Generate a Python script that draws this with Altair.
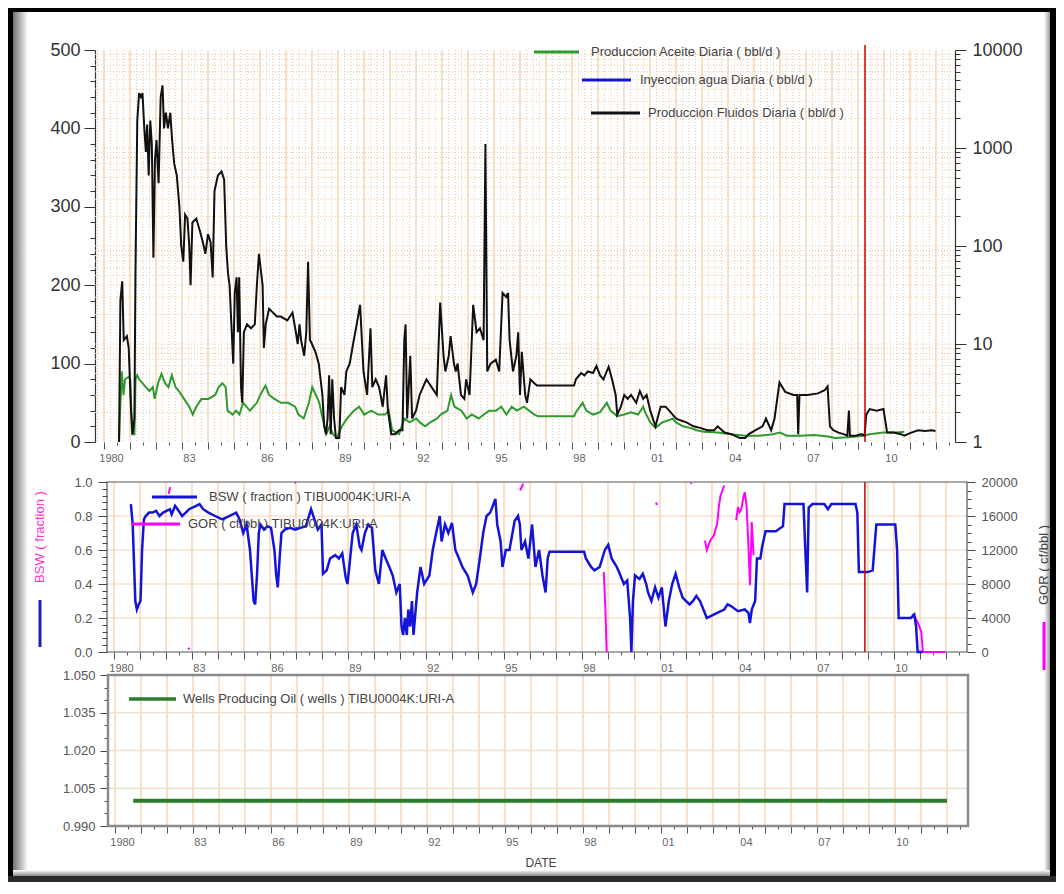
import altair as alt
import pandas as pd

FONT = "Liberation Sans"
W, H = 1048, 874

# ---------------- data ----------------
# Produccion Fluidos Diaria (bbl/d), black
fluid = [
    (1980.58, 0), (1980.63, 180), (1980.70, 205), (1980.76, 130), (1980.88, 135), (1980.95, 120),
    (1981.04, 40), (1981.10, 10), (1981.17, 30), (1981.21, 215), (1981.28, 410), (1981.35, 445),
    (1981.42, 440), (1981.48, 445), (1981.55, 400), (1981.61, 370), (1981.66, 405), (1981.72, 340),
    (1981.78, 410), (1981.84, 380), (1981.90, 235), (1981.96, 360), (1982.02, 385), (1982.10, 330),
    (1982.18, 440), (1982.25, 455), (1982.31, 400), (1982.38, 420), (1982.46, 400), (1982.55, 420),
    (1982.62, 385), (1982.70, 355), (1982.80, 340), (1982.90, 300), (1982.97, 250), (1983.05, 230),
    (1983.12, 290), (1983.21, 285), (1983.28, 250), (1983.33, 200), (1983.40, 280), (1983.55, 285),
    (1983.68, 270), (1983.80, 255), (1983.90, 240), (1984.00, 265), (1984.10, 255), (1984.18, 210),
    (1984.25, 320), (1984.38, 340), (1984.52, 345), (1984.62, 335), (1984.70, 250), (1984.77, 215),
    (1984.83, 200), (1984.90, 150), (1984.97, 100), (1985.03, 190), (1985.10, 210), (1985.15, 140),
    (1985.20, 210), (1985.27, 70), (1985.32, 50), (1985.38, 140), (1985.50, 150), (1985.65, 145),
    (1985.80, 150), (1985.88, 200), (1985.96, 240), (1986.03, 220), (1986.10, 200), (1986.15, 120),
    (1986.22, 150), (1986.35, 170), (1986.50, 165), (1986.65, 160), (1986.80, 160), (1987.05, 155),
    (1987.25, 165), (1987.38, 140), (1987.45, 125), (1987.52, 150), (1987.58, 130), (1987.70, 110),
    (1987.78, 140), (1987.85, 230), (1987.92, 130), (1988.00, 125), (1988.13, 115), (1988.26, 100),
    (1988.40, 60), (1988.47, 20), (1988.54, 10), (1988.60, 30), (1988.66, 85), (1988.72, 10),
    (1988.78, 80), (1988.85, 30), (1988.92, 5), (1989.05, 5), (1989.12, 70), (1989.25, 60),
    (1989.32, 90), (1989.45, 100), (1989.58, 125), (1989.72, 150), (1989.85, 175), (1989.98, 90),
    (1990.12, 60), (1990.25, 145), (1990.32, 70), (1990.45, 80), (1990.58, 70), (1990.72, 45),
    (1990.85, 85), (1990.92, 40), (1991.05, 10), (1991.20, 10), (1991.35, 15), (1991.48, 15),
    (1991.55, 130), (1991.60, 150), (1991.66, 30), (1991.78, 110), (1991.85, 30), (1992.00, 40),
    (1992.14, 60), (1992.27, 70), (1992.40, 80), (1992.60, 70), (1992.80, 60), (1992.93, 178),
    (1993.06, 110), (1993.13, 90), (1993.26, 110), (1993.33, 135), (1993.46, 100), (1993.53, 90),
    (1993.60, 100), (1993.73, 60), (1993.86, 55), (1993.93, 80), (1994.06, 60), (1994.20, 175),
    (1994.33, 140), (1994.46, 145), (1994.60, 130), (1994.67, 380), (1994.74, 90), (1994.87, 100),
    (1995.07, 105), (1995.20, 90), (1995.33, 190), (1995.47, 185), (1995.54, 190), (1995.60, 130),
    (1995.73, 90), (1995.86, 110), (1995.93, 140), (1996.00, 60), (1996.07, 115), (1996.20, 60),
    (1996.27, 50), (1996.40, 80), (1996.55, 75), (1996.65, 72), (1998.08, 72), (1998.15, 80),
    (1998.35, 88), (1998.48, 85), (1998.61, 90), (1998.81, 88), (1998.94, 97), (1999.08, 85),
    (1999.21, 80), (1999.41, 96), (1999.54, 80), (1999.68, 60), (1999.74, 35), (1999.88, 45),
    (2000.01, 60), (2000.14, 55), (2000.27, 60), (2000.47, 50), (2000.61, 65), (2000.74, 55),
    (2000.87, 60), (2001.01, 40), (2001.21, 20), (2001.41, 45), (2001.60, 45), (2001.74, 40),
    (2001.87, 35), (2002.00, 30), (2002.14, 28), (2002.40, 25), (2002.67, 20), (2002.93, 18),
    (2003.20, 15), (2003.47, 15), (2003.60, 20), (2003.87, 12), (2004.13, 10), (2004.46, 5),
    (2004.66, 5), (2004.80, 10), (2005.06, 15), (2005.33, 20), (2005.46, 30), (2005.66, 15),
    (2005.79, 30), (2005.98, 76), (2006.20, 64), (2006.52, 60), (2006.66, 60), (2006.70, 10),
    (2006.75, 60), (2007.06, 60), (2007.46, 62), (2007.72, 66), (2007.83, 71), (2007.92, 20),
    (2008.05, 15), (2008.25, 12), (2008.45, 10), (2008.59, 8), (2008.65, 40), (2008.69, 8),
    (2008.92, 8), (2009.12, 10), (2009.25, 8), (2009.32, 35), (2009.45, 42), (2009.72, 40),
    (2009.98, 42), (2010.12, 12), (2010.38, 12), (2010.65, 10), (2010.78, 8), (2011.05, 12),
    (2011.31, 15), (2011.58, 14), (2011.84, 15), (2011.98, 14),
]

# Produccion Aceite Diaria (bbl/d), green
oil = [
    (1980.58, 5), (1980.68, 90), (1980.75, 60), (1980.81, 80), (1980.95, 83), (1981.01, 80),
    (1981.08, 10), (1981.17, 10), (1981.21, 80), (1981.28, 85), (1981.35, 80), (1981.48, 75),
    (1981.61, 70), (1981.75, 65), (1981.88, 70), (1981.95, 55), (1982.08, 75), (1982.21, 87),
    (1982.35, 75), (1982.48, 70), (1982.61, 85), (1982.75, 70), (1982.88, 65), (1983.08, 55),
    (1983.28, 45), (1983.41, 35), (1983.55, 45), (1983.75, 55), (1984.01, 55), (1984.28, 60),
    (1984.41, 70), (1984.55, 75), (1984.68, 70), (1984.75, 40), (1984.95, 35), (1985.08, 40),
    (1985.21, 35), (1985.35, 50), (1985.48, 45), (1985.61, 40), (1985.88, 50), (1986.01, 60),
    (1986.21, 72), (1986.35, 60), (1986.55, 55), (1986.81, 50), (1987.08, 50), (1987.35, 45),
    (1987.48, 35), (1987.68, 30), (1987.88, 50), (1988.01, 70), (1988.15, 60), (1988.28, 50),
    (1988.41, 30), (1988.55, 10), (1988.68, 20), (1988.81, 10), (1988.95, 5), (1989.15, 20),
    (1989.35, 30), (1989.61, 40), (1989.81, 45), (1990.01, 35), (1990.28, 40), (1990.55, 35),
    (1990.81, 35), (1990.95, 40), (1991.08, 15), (1991.35, 10), (1991.55, 30), (1991.75, 25),
    (1992.01, 30), (1992.15, 25), (1992.35, 20), (1992.55, 25), (1992.81, 30), (1992.95, 35),
    (1993.21, 40), (1993.35, 60), (1993.48, 45), (1993.75, 40), (1993.95, 30), (1994.15, 35),
    (1994.41, 30), (1994.61, 35), (1994.81, 40), (1995.08, 40), (1995.28, 45), (1995.48, 35),
    (1995.68, 45), (1995.88, 40), (1996.15, 45), (1996.35, 40), (1996.55, 35), (1996.70, 33),
    (1998.08, 33), (1998.15, 38), (1998.41, 50), (1998.55, 40), (1998.81, 35), (1999.08, 38),
    (1999.34, 50), (1999.48, 40), (1999.74, 33), (2000.01, 35), (2000.27, 38), (2000.54, 35),
    (2000.74, 45), (2000.81, 38), (2001.01, 25), (2001.21, 18), (2001.47, 25), (2001.74, 28),
    (2001.87, 30), (2002.00, 25), (2002.27, 20), (2002.54, 18), (2002.80, 15), (2003.07, 13),
    (2003.60, 12), (2004.13, 10), (2004.66, 8), (2005.19, 8), (2005.73, 10), (2005.99, 12),
    (2006.26, 8), (2006.79, 8), (2007.32, 9), (2007.85, 7), (2008.12, 5), (2008.65, 6),
    (2009.19, 8), (2009.45, 10), (2009.98, 12), (2010.52, 12), (2010.78, 13),
]

# BSW (fraction), blue
bsw = [
    (1980.65, 0.87), (1980.72, 0.75), (1980.82, 0.30), (1980.88, 0.25), (1980.95, 0.28),
    (1981.02, 0.30), (1981.08, 0.60), (1981.15, 0.78), (1981.22, 0.80), (1981.35, 0.82),
    (1981.48, 0.82), (1981.62, 0.83), (1981.75, 0.80), (1981.89, 0.82), (1982.02, 0.83),
    (1982.15, 0.84), (1982.22, 0.81), (1982.35, 0.86), (1982.49, 0.83), (1982.62, 0.80),
    (1982.76, 0.82), (1982.89, 0.84), (1983.02, 0.85), (1983.16, 0.86), (1983.29, 0.87),
    (1983.43, 0.84), (1983.63, 0.82), (1983.89, 0.80), (1984.16, 0.78), (1984.43, 0.80),
    (1984.70, 0.82), (1984.83, 0.78), (1984.97, 0.70), (1985.10, 0.75), (1985.23, 0.60),
    (1985.37, 0.30), (1985.43, 0.28), (1985.50, 0.45), (1985.57, 0.70), (1985.63, 0.75),
    (1985.77, 0.72), (1985.90, 0.74), (1986.04, 0.73), (1986.17, 0.60), (1986.24, 0.45),
    (1986.30, 0.38), (1986.37, 0.55), (1986.44, 0.70), (1986.57, 0.72), (1986.77, 0.73),
    (1986.97, 0.72), (1987.17, 0.73), (1987.38, 0.74), (1987.58, 0.84), (1987.71, 0.78),
    (1987.84, 0.72), (1987.98, 0.75), (1988.04, 0.46), (1988.18, 0.48), (1988.31, 0.55),
    (1988.51, 0.57), (1988.65, 0.55), (1988.78, 0.58), (1988.91, 0.44), (1988.98, 0.40),
    (1989.05, 0.50), (1989.18, 0.70), (1989.32, 0.75), (1989.45, 0.62), (1989.52, 0.60),
    (1989.65, 0.70), (1989.78, 0.75), (1989.92, 0.73), (1990.05, 0.48), (1990.19, 0.40),
    (1990.32, 0.60), (1990.45, 0.55), (1990.59, 0.50), (1990.72, 0.45), (1990.86, 0.35),
    (1990.99, 0.40), (1991.06, 0.15), (1991.12, 0.10), (1991.19, 0.20), (1991.26, 0.10),
    (1991.32, 0.25), (1991.39, 0.15), (1991.46, 0.30), (1991.52, 0.10), (1991.66, 0.35),
    (1991.79, 0.50), (1991.93, 0.40), (1992.13, 0.45), (1992.26, 0.60), (1992.39, 0.70),
    (1992.53, 0.80), (1992.60, 0.65), (1992.73, 0.75), (1992.86, 0.70), (1993.00, 0.76),
    (1993.13, 0.60), (1993.27, 0.55), (1993.40, 0.50), (1993.60, 0.45), (1993.80, 0.35),
    (1993.93, 0.40), (1994.07, 0.55), (1994.20, 0.70), (1994.33, 0.80), (1994.47, 0.82),
    (1994.67, 0.90), (1994.74, 0.75), (1994.87, 0.65), (1994.94, 0.50), (1995.07, 0.60),
    (1995.21, 0.60), (1995.41, 0.77), (1995.54, 0.80), (1995.61, 0.75), (1995.67, 0.60),
    (1995.81, 0.65), (1995.94, 0.55), (1996.08, 0.75), (1996.21, 0.50), (1996.35, 0.60),
    (1996.48, 0.45), (1996.60, 0.35), (1996.68, 0.55), (1996.75, 0.59), (1998.08, 0.59),
    (1998.15, 0.55), (1998.35, 0.50), (1998.48, 0.48), (1998.68, 0.50), (1998.88, 0.60),
    (1999.01, 0.63), (1999.14, 0.55), (1999.34, 0.50), (1999.48, 0.45), (1999.61, 0.40),
    (1999.74, 0.42), (1999.85, 0.20), (1999.90, 0.00), (1999.96, 0.30), (2000.04, 0.45),
    (2000.21, 0.43), (2000.34, 0.46), (2000.47, 0.40), (2000.54, 0.35), (2000.67, 0.30),
    (2000.81, 0.38), (2000.94, 0.32), (2001.07, 0.38), (2001.21, 0.15), (2001.34, 0.30),
    (2001.47, 0.40), (2001.60, 0.46), (2001.74, 0.38), (2001.87, 0.32), (2002.00, 0.30),
    (2002.14, 0.28), (2002.27, 0.30), (2002.40, 0.33), (2002.54, 0.30), (2002.67, 0.25),
    (2002.80, 0.20), (2002.93, 0.21), (2003.20, 0.23), (2003.47, 0.25), (2003.60, 0.28),
    (2003.73, 0.27), (2004.00, 0.24), (2004.26, 0.25), (2004.40, 0.23), (2004.46, 0.17),
    (2004.53, 0.25), (2004.66, 0.30), (2004.73, 0.55), (2004.86, 0.55), (2004.93, 0.62),
    (2005.06, 0.71), (2005.46, 0.71), (2005.73, 0.74), (2005.79, 0.87), (2006.52, 0.87),
    (2006.59, 0.60), (2006.66, 0.35), (2006.72, 0.85), (2006.86, 0.87), (2007.32, 0.87),
    (2007.46, 0.84), (2007.59, 0.87), (2008.52, 0.87), (2008.59, 0.82), (2008.65, 0.47),
    (2008.99, 0.47), (2009.18, 0.48), (2009.32, 0.75), (2010.05, 0.75), (2010.12, 0.60),
    (2010.18, 0.20), (2010.38, 0.20), (2010.65, 0.20), (2010.78, 0.22), (2010.85, 0.15),
    (2010.91, 0.00), (2011.10, 0.00),
]

# GOR (cf/bbl), magenta: separate pieces
gor = [
    ("a", 1982.10, 18600), ("a", 1982.16, 19400),
    ("b", 1982.85, 300), ("b", 1982.90, 500),
    ("c", 1986.95, 19900), ("c", 1987.00, 19900),
    ("d", 1995.62, 19000), ("d", 1995.74, 19800),
    ("e", 1998.84, 9400), ("e", 1998.90, 5000), ("e", 1998.95, 0),
    ("f", 2000.85, 17600), ("f", 2000.88, 17300),
    ("g", 2002.18, 19900), ("g", 2002.22, 19800),
    ("h", 2002.73, 13100), ("h", 2002.80, 12000), ("h", 2002.93, 13100), ("h", 2003.07, 13700),
    ("h", 2003.20, 15100), ("h", 2003.27, 17250), ("h", 2003.33, 18400), ("h", 2003.40, 19000),
    ("h", 2003.47, 19600),
    ("i", 2003.93, 15500), ("i", 2004.00, 17050), ("i", 2004.06, 16450), ("i", 2004.13, 16850),
    ("i", 2004.20, 18050), ("i", 2004.26, 18800), ("i", 2004.33, 17250), ("i", 2004.40, 12550),
    ("i", 2004.46, 7850), ("i", 2004.53, 15300), ("i", 2004.60, 11400),
    ("j", 2010.71, 4500), ("j", 2010.80, 4100), ("j", 2010.91, 3500), ("j", 2011.05, 2350),
    ("j", 2011.11, 0), ("j", 2011.98, 0),
]

# Wells Producing Oil (wells)
wells_year = [1980.70, 2012.00]
wells_count = [1, 1]

# red date marker
marker_top = [2009.27]
marker_mid = [2008.88]

# axis ticks / labels
top_left_major = [0, 100, 200, 300, 400, 500]
top_left_ticks = list(range(0, 501, 20))
top_right_major = [1, 10, 100, 1000, 10000]
top_right_ticks = [m * 10 ** k for k in range(0, 4) for m in range(1, 10)] + [10000]
mid_left_major = [0.0, 0.2, 0.4, 0.6, 0.8, 1.0]
mid_left_ticks = [round(i * 0.04, 2) for i in range(26)]
mid_right_major = [0, 4000, 8000, 12000, 16000, 20000]
mid_right_ticks = list(range(0, 20001, 1000))
low_left_major = [0.990, 1.005, 1.020, 1.035, 1.050]
low_left_ticks = [round(0.99 + i * 0.005, 3) for i in range(13)]

legend_top = ["Produccion Aceite Diaria ( bbl/d )", "Inyeccion agua Diaria ( bbl/d )",
              "Produccion Fluidos Diaria ( bbl/d )"]
legend_mid = ["BSW ( fraction ) TIBU0004K:URI-A", "GOR ( cf/bbl ) TIBU0004K:URI-A"]
legend_low = ["Wells Producing Oil ( wells ) TIBU0004K:URI-A"]

# ---------------- geometry (view pixels) ----------------
P1 = dict(x0=87, x1=947, y0=42, y1=434, d0=1979.654, d1=2012.731)
P2 = dict(x0=99, x1=959, y0=474, y1=644, d0=1979.731, d1=2012.808)
P3 = dict(x0=100, x1=960, y0=667, y1=818, d0=1979.731, d1=2012.808)

GRID = "#f5cba2"
GRID_DOT = "#ecc9a6"
ONE = pd.DataFrame({"k": [0]})


def xsc(p):
    return alt.Scale(domain=[p["d0"], p["d1"]], range=[p["x0"], p["x1"]], nice=False, zero=False)


def ysc(p, dom, typ="linear"):
    if typ == "log":
        return alt.Scale(type="log", domain=dom, range=[p["y1"], p["y0"]], nice=False)
    return alt.Scale(domain=dom, range=[p["y1"], p["y0"]], nice=False, zero=False)


Y1 = ysc(P1, [0, 500])
Y1L = ysc(P1, [1, 10000], "log")
Y2 = ysc(P2, [0, 1])
Y2G = ysc(P2, [0, 20000])
Y3 = ysc(P3, [0.99, 1.05])


def in_dom(vals, p):
    return [v for v in vals if p["d0"] <= v <= p["d1"]]


def vgrid(vals, p, color, width=1.0, dash=None):
    mk = dict(color=color, strokeWidth=width)
    if dash:
        mk["strokeDash"] = dash
    return alt.Chart(pd.DataFrame({"g": in_dom(vals, p)})).mark_rule(**mk).encode(
        x=alt.X("g:Q", scale=xsc(p), axis=None), y=alt.value(p["y0"]), y2=alt.value(p["y1"]))


def hgrid(vals, p, scale, color, width=1.0, dash=None):
    mk = dict(color=color, strokeWidth=width)
    if dash:
        mk["strokeDash"] = dash
    return alt.Chart(pd.DataFrame({"g": vals})).mark_rule(**mk).encode(
        y=alt.Y("g:Q", scale=scale, axis=None), x=alt.value(p["x0"]), x2=alt.value(p["x1"]))


def series(rows, p, yscale, color, width, detail=False):
    if detail:
        df = pd.DataFrame(rows, columns=["seg", "year", "value"])
    else:
        df = pd.DataFrame(rows, columns=["year", "value"])
    enc = dict(x=alt.X("year:Q", scale=xsc(p), axis=None),
               y=alt.Y("value:Q", scale=yscale, axis=None))
    if detail:
        enc["detail"] = "seg:N"
    return alt.Chart(df).mark_line(color=color, strokeWidth=width).encode(**enc)


def text_at(txt, x, y, size=13, color="#444", align="left", angle=0):
    mk = dict(text=txt, font=FONT, fontSize=size, color=color, align=align, baseline="middle")
    if angle:
        mk["angle"] = angle
    return alt.Chart(ONE).mark_text(**mk).encode(x=alt.value(x), y=alt.value(y))


def hseg(x0, x1, y, color, width):
    return alt.Chart(ONE).mark_rule(color=color, strokeWidth=width).encode(
        x=alt.value(x0), x2=alt.value(x1), y=alt.value(y))


def vseg(x, y0, y1, color, width):
    return alt.Chart(ONE).mark_rule(color=color, strokeWidth=width).encode(
        x=alt.value(x), y=alt.value(y0), y2=alt.value(y1))


def box(x0, x1, y0, y1, **mk):
    return alt.Chart(ONE).mark_rect(**mk).encode(
        x=alt.value(x0), x2=alt.value(x1), y=alt.value(y0), y2=alt.value(y1))


def js_list(vals):
    return "[" + ",".join(repr(v) for v in vals) + "]"


def x_axis_layer(p):
    ticks = in_dom(sorted(list(range(1980, 2013)) + [y + 0.5 for y in range(1979, 2013)]), p)
    expr = ("datum.value == 1980 ? '1980' : (datum.value % 3 != 0 ? '' : "
            "(datum.value % 100 < 10 ? '0' + (datum.value % 100) : '' + (datum.value % 100)))")
    ax = alt.Axis(orient="bottom", offset=p["y1"] - H, values=ticks, labelExpr=expr,
                  tickSize={"condition": {"test": "datum.value % 1 == 0", "value": 7}, "value": 3},
                  tickColor="#555", labelFont=FONT, labelFontSize=11, labelColor="#666",
                  labelPadding=3, labelOffset=7, labelFlush=False, labelOverlap=False,
                  domain=False, grid=False, title=None)
    return alt.Chart(pd.DataFrame({"v": ticks})).mark_point(opacity=0).encode(
        x=alt.X("v:Q", scale=xsc(p), axis=ax))


def y_axis_layer(ticks, major, scale, fmt, big, small, **ax):
    test = "indexof(" + js_list(major) + ", datum.value) >= 0"
    base = dict(grid=False, title=None, labelFont=FONT, labelOverlap=False, values=ticks,
                labelExpr=test + " ? format(datum.value, '" + fmt + "') : ''",
                tickSize={"condition": {"test": test, "value": big}, "value": small})
    base.update(ax)
    return alt.Chart(pd.DataFrame({"v": ticks})).mark_point(opacity=0).encode(
        y=alt.Y("v:Q", scale=scale, axis=alt.Axis(**base)))


layers = []

# ---------- panel 1 grid ----------
quarters = [y + q for y in range(1979, 2013) for q in (0.25, 0.5, 0.75)]
years_all = list(range(1980, 2013))
log_grid = [m * 10 ** k for k in range(0, 4) for m in range(2, 10)] + [10, 100, 1000]
layers.append(vgrid(quarters, P1, GRID_DOT, 1, [1, 2]))
layers.append(hgrid(log_grid, P1, Y1L, GRID_DOT, 1, [1, 2]))
layers.append(vgrid(years_all, P1, GRID, 1.2))

# ---------- panel 2 grid ----------
layers.append(vgrid(years_all, P2, GRID, 1.2))
layers.append(hgrid([0.2, 0.4, 0.6, 0.8], P2, Y2, "#f3d6b6", 1.2))

# ---------- panel 3 grid ----------
layers.append(vgrid(years_all, P3, GRID, 1.2))
layers.append(hgrid([1.005, 1.020, 1.035], P3, Y3, "#eee0cf", 1.5))

# ---------- outer frame ----------
grad_h = {"gradient": "linear", "x1": 0, "x2": 1, "y1": 0, "y2": 0,
          "stops": [{"offset": 0, "color": "#707070"}, {"offset": 1, "color": "#ffffff"}]}
grad_h_r = {"gradient": "linear", "x1": 0, "x2": 1, "y1": 0, "y2": 0,
            "stops": [{"offset": 0, "color": "#ffffff"}, {"offset": 1, "color": "#9a9a9a"}]}
grad_v_b = {"gradient": "linear", "x1": 0, "x2": 0, "y1": 0, "y2": 1,
            "stops": [{"offset": 0, "color": "#ffffff"}, {"offset": 1, "color": "#8a8a8a"}]}
layers.append(box(5, 20, 0, H, color=grad_h))
layers.append(box(W - 12, W - 6, 0, H, color=grad_h_r))
layers.append(box(0, W, H - 12, H - 6, color=grad_v_b))
layers.append(box(0, 5, 0, H, color="#000000"))
layers.append(box(0, W, 0, 4, color="#000000"))
layers.append(box(W - 6, W, 0, H, color="#000000"))
layers.append(box(0, W, H - 6, H, color="#2a2a2a"))

# ---------- panel frames ----------
layers.append(box(P2["x0"], P2["x1"], P2["y0"], P2["y1"], fill="transparent", stroke="#555555", strokeWidth=1.2))
layers.append(box(P3["x0"], P3["x1"], P3["y0"], P3["y1"], fill="transparent", stroke="#8a8a8a", strokeWidth=2.5))

# ---------- data ----------
layers.append(series(oil, P1, Y1, "#2f9a2f", 2))
layers.append(series(fluid, P1, Y1, "#111111", 2))
layers.append(series(gor, P2, Y2G, "#ff00ff", 2, detail=True))
layers.append(series(bsw, P2, Y2, "#1414d8", 2.5))
layers.append(series(list(zip(wells_year, wells_count)), P3, Y3, "#2e7d2e", 4))

# red date marker
layers.append(alt.Chart(pd.DataFrame({"year": marker_top})).mark_rule(color="#cc0000", strokeWidth=1.5).encode(
    x=alt.X("year:Q", scale=xsc(P1), axis=None), y=alt.value(37), y2=alt.value(P1["y1"])))
layers.append(alt.Chart(pd.DataFrame({"year": marker_mid})).mark_rule(color="#cc0000", strokeWidth=1.5).encode(
    x=alt.X("year:Q", scale=xsc(P2), axis=None), y=alt.value(P2["y0"]), y2=alt.value(P2["y1"])))

# ---------- legends ----------
layers += [
    hseg(526, 571, 44, "#2f9a2f", 3), text_at(legend_top[0], 583, 44, 13, "#444"),
    hseg(574, 623, 72, "#1414d8", 3), text_at(legend_top[1], 632, 72, 13, "#444"),
    hseg(583, 632, 105, "#111111", 3), text_at(legend_top[2], 640, 105, 13, "#444"),
    hseg(144, 189, 489, "#1414d8", 3), text_at(legend_mid[0], 201, 489, 13, "#444"),
    hseg(123, 172, 516, "#ff00ff", 3), text_at(legend_mid[1], 180, 516, 13, "#444"),
    hseg(121, 168, 691, "#2e7d2e", 3.5), text_at(legend_low[0], 175, 691, 13, "#444"),
]

# side titles
layers += [
    text_at("BSW ( fraction )", 32, 529, 13, "#ff33cc", "center", 270),
    vseg(32, 592, 639, "#2020b0", 3),
    text_at("GOR ( cf/bbl )", 1036, 557, 13, "#444", "center", 270),
    vseg(1036, 614, 662, "#ff00ff", 3),
    text_at("DATE", 533, 855, 12, "#444", "center"),
]

# ---------- axes ----------
layers += [x_axis_layer(P1), x_axis_layer(P2), x_axis_layer(P3)]

layers.append(y_axis_layer(top_left_ticks, top_left_major, Y1, "d", 11, 5, orient="left",
                           offset=-P1["x0"], tickColor="#333", labelFontSize=18, labelColor="#333",
                           labelPadding=4, domain=True, domainColor="#333", domainWidth=1.2))
layers.append(y_axis_layer(top_right_ticks, top_right_major, Y1L, "d", 11, 5, orient="right",
                           offset=P1["x1"] - W, tickColor="#333", labelFontSize=18, labelColor="#333",
                           labelPadding=6, domain=True, domainColor="#333", domainWidth=1.2))
layers.append(y_axis_layer(mid_left_ticks, mid_left_major, Y2, ".1f", 9, 5, orient="left",
                           offset=-P2["x0"], tickColor="#444", labelFontSize=13, labelColor="#555",
                           labelPadding=6, domain=False))
layers.append(y_axis_layer(mid_right_ticks, mid_right_major, Y2G, "d", 8, 4, orient="right",
                           offset=P2["x1"] - W, tickColor="#444", labelFontSize=13, labelColor="#555",
                           labelPadding=6, domain=False))
layers.append(y_axis_layer(low_left_ticks, low_left_major, Y3, ".3f", 8, 4, orient="left",
                           offset=-P3["x0"], tickColor="#444", labelFontSize=13, labelColor="#555",
                           labelPadding=5, domain=False))

chart = alt.layer(*layers).resolve_scale(x="independent", y="independent").properties(
    width=W, height=H, padding=0, autosize=alt.AutoSizeParams(type="none"), background="white"
).configure_view(strokeWidth=0)

chart.save("out.html", embed_options={"renderer": "svg", "actions": False})
